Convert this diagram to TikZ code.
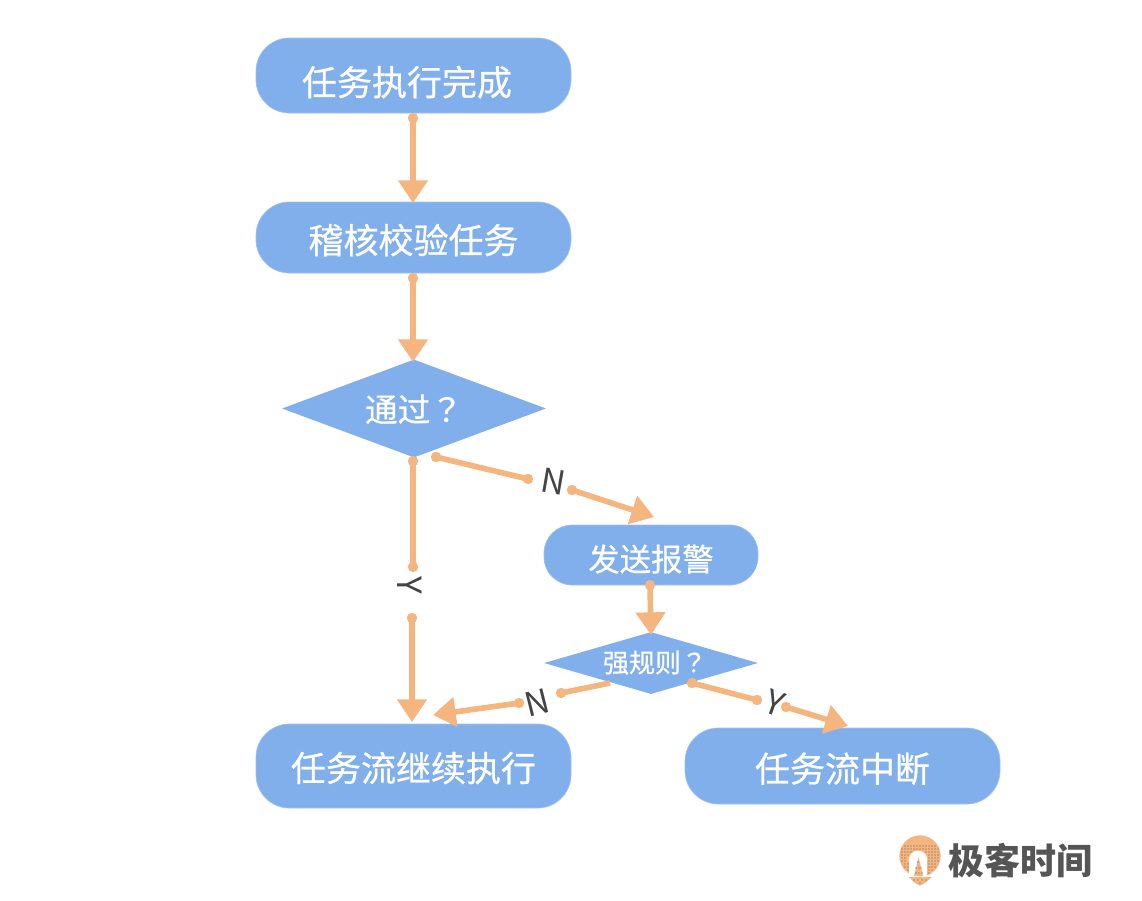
\documentclass[tikz,border=0pt]{standalone}
\usepackage{fontspec}
\setmainfont[FakeBold=0.6]{Noto Sans CJK SC}
\newfontfamily\plaincjk{Noto Sans CJK SC}
\newfontfamily\tcmark[FakeBold=0.6]{Noto Sans CJK TC}
\usetikzlibrary{shapes.geometric,arrows.meta}
\definecolor{boxblue}{HTML}{80AFEC}
\definecolor{linkorange}{HTML}{F4B57F}
\definecolor{inkgrey}{HTML}{444444}
\definecolor{logogrey}{HTML}{555555}
% #1 horizontal shift (twice the offset), #2 drop below the node centre, #3 text
\newcommand{\placed}[3]{\smash{\raisebox{-#2}{\makebox[0pt]{\hspace{#1}#3}}}}
\tikzset{
  x=0.75pt,y=-0.75pt,
  flowbox/.style={draw=boxblue!75!white,line width=0.5pt,fill=boxblue,rounded corners=25pt,inner sep=0pt,text=white},
  decide/.style={diamond,draw=none,fill=boxblue,inner sep=0pt,text=white},
  link/.style={draw=linkorange,line width=4.2pt,line cap=round},
  linkhead/.style={link,line cap=butt,-{Triangle[length=17pt,width=21.5pt,fill=linkorange]}},
  flag/.style={inner sep=0pt,text=inkgrey,font=\plaincjk\fontsize{25pt}{28pt}\selectfont},
  big/.style={font=\fontsize{26.25pt}{30pt}\selectfont},
}
\begin{document}
\begin{tikzpicture}
\useasboundingbox (0,0) rectangle (1142,900);
\fill[white] (0,0) rectangle (1142,900);
% nodes
\node[flowbox,big,minimum width=236.25pt,minimum height=56.25pt] (done) at (413.5,75.5) {\placed{-9.8pt}{15pt}{任务执行完成}};
\node[flowbox,big,minimum width=236.25pt,minimum height=53.25pt] (audit) at (413.5,237.5) {\placed{0pt}{12pt}{稽核校验任务}};
\node[decide,aspect=2.69,font=\fontsize{24.5pt}{28pt}\selectfont,minimum width=198pt,minimum height=73.5pt] (pass) at (414,408.5) {\placed{0pt}{10pt}{通过{\tcmark ？}}};
\node[flowbox,rounded corners=21pt,font=\fontsize{23.5pt}{27pt}\selectfont,minimum width=160.5pt,minimum height=45pt] (alarm) at (651,555) {\placed{0pt}{12pt}{发送报警}};
\node[decide,aspect=3.45,font=\fontsize{19.5pt}{22pt}\selectfont,minimum width=160.5pt,minimum height=46.5pt] (strong) at (651,663) {\placed{6pt}{7pt}{强规则{\tcmark ？}}};
\node[flowbox,big,minimum width=236.25pt,minimum height=63pt] (cont) at (413.5,766) {\placed{0pt}{11.5pt}{任务流继续执行}};
\node[flowbox,big,minimum width=236.25pt,minimum height=57pt] (stop) at (842.5,766) {\placed{0pt}{12pt}{任务流中断}};
% labels
\node[flag,rotate=-90] (ly) at (410,585) {Y};
\node[flag,rotate=-10] (ln) at (553,482) {N};
\node[flag,rotate=14] (ln2) at (537,703) {N};
\node[flag,rotate=-20] (ly2) at (775,703) {Y};
% free ends
\coordinate (a1) at (413,118); \coordinate (a2) at (413,203);
\coordinate (b1) at (413,278); \coordinate (b2) at (413,362);
\coordinate (c1) at (413,461); \coordinate (c2) at (413,567);
\coordinate (c3) at (412,618); \coordinate (c4) at (412,722);
\coordinate (d1) at (436,457); \coordinate (d2) at (528,479);
\coordinate (d3) at (572,490); \coordinate (d4) at (654,517);
\coordinate (e1) at (650,585); \coordinate (e2) at (651,635);
\coordinate (f1) at (610,683); \coordinate (f2) at (561,693);
\coordinate (f3) at (519,703); \coordinate (f4) at (433,715);
\coordinate (g1) at (692,683); \coordinate (g2) at (757,700);
\coordinate (g3) at (786,707); \coordinate (g4) at (848,726);
% connectors
\foreach \p in {a1,b1,c1,c2,c3,d1,d2,d3,e1,f2,f3,g1,g2,g3}
  \fill[linkorange] (\p) circle (3.9pt);
\draw[linkhead] (a1) -- (a2);
\draw[linkhead] (b1) -- (b2);
\draw[link] (c1) -- (c2);
\draw[linkhead] (c3) -- (c4);
\draw[link] (d1) -- (d2);
\draw[linkhead] (d3) -- (d4);
\draw[linkhead] (e1) -- (e2);
\draw[link,line cap=butt] (f1) -- (f2);
\draw[linkhead] (f3) -- (f4);
\draw[link] (g1) -- (g2);
\draw[linkhead] (g3) -- (g4);
% logo
\fill[linkorange] (920,856) circle (15.5pt);
\fill[white] (918,860) circle (7pt);
\fill[white] (909,860) rectangle (927,878);
\fill[white] (895,876) rectangle (945,878);
\fill[linkorange] (918.5,857) -- (923,876) -- (914,876) -- cycle;
\fill[linkorange] (909,877) -- (932,877) -- (925,883) -- (920,885.5) -- (915,883) -- cycle;
\foreach \i in {0,...,14} \foreach \j in {0,...,13} {
  \pgfmathtruncatemacro\ok{(veclen(899+3*\i-920,846+3*\j-856)<19.5 && veclen(899+3*\i-918,846+3*\j-860)>10.5 && (899+3*\i<909 || 899+3*\i>927 || 846+3*\j<856)) ? 1 : 0}
  \ifnum\ok=1 \fill[logogrey] (899+3*\i,846+3*\j) circle (0.5pt); \fi
}
\foreach \q/\r in {918/862,916/868,919/868,921/868,916/873,919/873,922/873,914/880,918/880,922/880,926/880,920/883}
  \fill[logogrey] (\q,\r) circle (0.5pt);
\node[inner sep=0pt,text=logogrey,font=\plaincjk\bfseries\fontsize{27pt}{30pt}\selectfont] (brand) at (1020.5,861) {极客时间};
\end{tikzpicture}
\end{document}
